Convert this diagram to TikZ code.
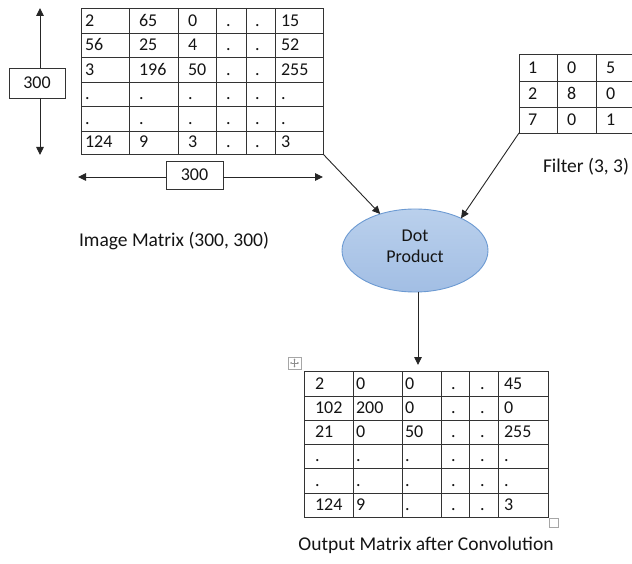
\documentclass[tikz,border=0pt]{standalone}
\usepackage{fontspec}
\setmainfont{Carlito}
\usetikzlibrary{shapes.geometric,arrows.meta}
\definecolor{ellfillA}{HTML}{BAD0EC}
\definecolor{ellfillB}{HTML}{A2BEE4}
\definecolor{ellline}{HTML}{6C9AD2}
\definecolor{gridcol}{HTML}{333333}
\begin{document}
\begin{tikzpicture}[x=1pt,y=-1pt,
  every node/.style={inner sep=0pt, outer sep=0pt, font=\fontsize{18}{21}\selectfont, text=black!92},
  tablebox/.style={draw=gridcol, line width=0.9pt, anchor=north west},
  gridline/.style={draw=gridcol, line width=0.9pt},
  cell/.style={anchor=base west},
  arr/.style={draw=black!85, line width=0.9pt, -{Triangle[length=8pt,width=7.5pt]}},
  dimbox/.style={draw=black!80, line width=0.9pt, fill=white},
  caption/.style={anchor=base, font=\fontsize{19.5}{23}\selectfont},
  artifact/.style={draw=black!35, line width=0.6pt}]
\useasboundingbox (0,0) rectangle (632,564);

% ---------- Image matrix ----------
\node[tablebox, minimum width=242pt, minimum height=146pt] (img) at (81,8) {};
\foreach \x in {129,178,216,246,275} \draw[gridline] (\x,8) -- (\x,154);
\foreach \y in {33,57,82,106,131} \draw[gridline] (81,\y) -- (323,\y);
\def\imgx{{85,139,188,226,255,281}}
\def\imgy{{33,57,82,106,131,154}}
\foreach \row [count=\r from 0] in {{2,65,0,.,.,15},{56,25,4,.,.,52},{3,196,50,.,.,255},{.,.,.,.,.,.},{.,.,.,.,.,.},{124,9,3,.,.,3}}{
  \foreach \v [count=\c from 0] in \row {
    \pgfmathsetmacro\xx{\imgx[\c]}
    \pgfmathsetmacro\yy{\imgy[\r]-6.5}
    \node[cell] (img-\r-\c) at (\xx,\yy) {\v};
  }
}

% dimension arrows
\node[dimbox, minimum width=56pt, minimum height=30pt] (vbox) at (37,83) {300};
\coordinate (vtop) at (40,8);
\coordinate (vbot) at (40,155);
\draw[arr] (vbox.north -| vtop) -- (vtop);
\draw[arr] (vbox.south -| vbot) -- (vbot);
\node[dimbox, minimum width=57pt, minimum height=28pt] (hbox) at (194.5,175) {300};
\coordinate (hleft) at (78,177);
\coordinate (hright) at (323,177);
\draw[arr] (hbox.west |- hleft) -- (hleft);
\draw[arr] (hbox.east |- hright) -- (hright);

\node[caption] (imgcap) at (174,247) {Image Matrix (300, 300)};

% ---------- Filter ----------
\node[tablebox, minimum width=115pt, minimum height=79pt] (filt) at (519,54) {};
\foreach \x in {557,596} \draw[gridline] (\x,54) -- (\x,133);
\foreach \y in {81,107} \draw[gridline] (519,\y) -- (634,\y);
\def\filx{{528,567,606}}
\def\fily{{81,107,133}}
\foreach \row [count=\r from 0] in {{1,0,5},{2,8,0},{7,0,1}}{
  \foreach \v [count=\c from 0] in \row {
    \pgfmathsetmacro\xx{\filx[\c]}
    \pgfmathsetmacro\yy{\fily[\r]-7}
    \node[cell] (filt-\r-\c) at (\xx,\yy) {\v};
  }
}
\node[caption, anchor=base west] (filtcap) at (543,173) {Filter (3, 3)};

% ---------- Dot product ----------
\node[ellipse, draw=ellline, line width=0.9pt, top color=ellfillA, bottom color=ellfillB,
      minimum width=146pt, minimum height=83pt] (dot) at (415,250.5) {};
\node[align=center] (dotlbl) at (415,246.5) {Dot\\Product};

\draw[arr] (img.south east) -- (dot);
\draw[arr] (filt.south west) -- (dot.35);

% ---------- Output matrix ----------
\node[tablebox, minimum width=244pt, minimum height=146pt] (out) at (304,371) {};
\foreach \x in {353,402,441,469,498} \draw[gridline] (\x,371) -- (\x,517);
\foreach \y in {396,420,444,468,493} \draw[gridline] (304,\y) -- (548,\y);
\def\outx{{315,356,405,451,480,504}}
\def\outy{{396,420,444,468,493,517}}
\foreach \row [count=\r from 0] in {{2,0,0,.,.,45},{102,200,0,.,.,0},{21,0,50,.,.,255},{.,.,.,.,.,.},{.,.,.,.,.,.},{124,9,.,.,.,3}}{
  \foreach \v [count=\c from 0] in \row {
    \pgfmathsetmacro\xx{\outx[\c]}
    \pgfmathsetmacro\yy{\outy[\r]-6.5}
    \node[cell] (out-\r-\c) at (\xx,\yy) {\v};
  }
}
\coordinate (outtip) at (418,365);
\draw[arr] (dot.south -| outtip) -- (outtip);

\node[caption] (outcap) at (426,550) {Output Matrix after Convolution};

% ---------- editor handles ----------
\node[artifact, minimum width=13pt, minimum height=12pt] (movebox) at (294.5,363) {};
\draw[black!45, line width=0.5pt, {Triangle[length=1.6pt,width=2pt]}-{Triangle[length=1.6pt,width=2pt]}] (movebox.center) ++(-4.5,0) -- ++(9,0);
\draw[black!45, line width=0.5pt, {Triangle[length=1.6pt,width=2pt]}-{Triangle[length=1.6pt,width=2pt]}] (movebox.center) ++(0,-4.5) -- ++(0,9);
\node[artifact, minimum width=9pt, minimum height=9pt] (sizebox) at (553.5,522.5) {};
\end{tikzpicture}
\end{document}
